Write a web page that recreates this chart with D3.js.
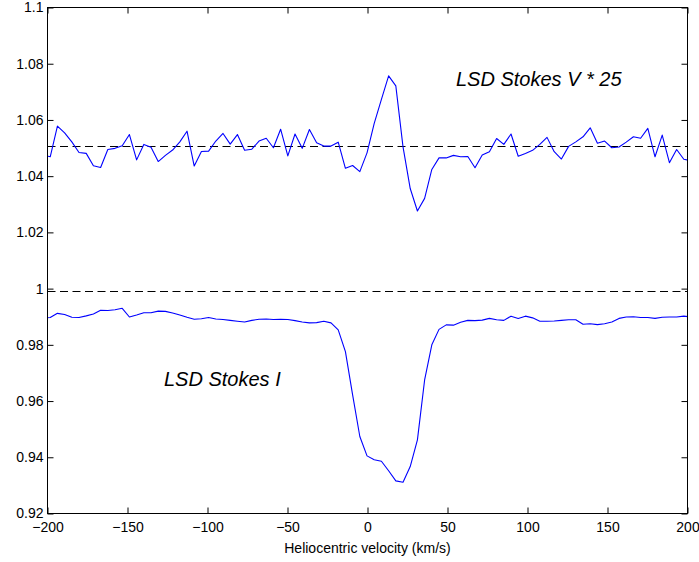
<!DOCTYPE html>
<html>
<head>
<meta charset="utf-8">
<script src="https://cdn.jsdelivr.net/npm/d3@7"></script>
<style>
	body { margin: 0; background: #fff; }
	svg { display: block; font-family: "Liberation Sans", Arial, Helvetica, sans-serif; }
	.tick text { font-size: 14px; fill: #000; }
	.tick line { stroke: #000; }
</style>
</head>
<body>
<div id="main-container"></div>
<script>

// velocity grid (km/s), shared by both profiles
var velocity = [
	-202.8, -198.3, -193.8, -189.3, -184.8, -180.3, -175.8, -171.3, -166.8, -162.3,
	-157.8, -153.3, -148.8, -144.3, -139.8, -135.3, -130.8, -126.3, -121.8, -117.3,
	-112.8, -108.3, -103.8, -99.3, -94.8, -90.3, -85.8, -81.3, -76.8, -72.3,
	-67.8, -63.3, -58.8, -54.3, -49.8, -45.3, -40.8, -36.3, -31.8, -27.3,
	-22.8, -18.3, -13.8, -9.3, -4.8, -0.3, 4.2, 8.7, 13.2, 17.7,
	22.2, 26.7, 31.2, 35.7, 40.2, 44.7, 49.2, 53.7, 58.2, 62.7,
	67.2, 71.7, 76.2, 80.7, 85.2, 89.7, 94.2, 98.7, 103.2, 107.7,
	112.2, 116.7, 121.2, 125.7, 130.2, 134.7, 139.2, 143.7, 148.2, 152.7,
	157.2, 161.7, 166.2, 170.7, 175.2, 179.7, 184.2, 188.7, 193.2, 197.7,
	202.2
];

// Stokes V (scaled by 25, shifted)
var stokesV = [
	1.0475, 1.0469, 1.0578, 1.0554, 1.0522, 1.0484, 1.0481, 1.0437, 1.0431, 1.0495,
	1.0499, 1.0508, 1.0548, 1.0458, 1.0513, 1.0503, 1.0452, 1.0474, 1.0493, 1.0522,
	1.0560, 1.0436, 1.0488, 1.0489, 1.0525, 1.0552, 1.0514, 1.0548, 1.0492, 1.0496,
	1.0525, 1.0535, 1.0501, 1.0567, 1.0472, 1.0550, 1.0499, 1.0566, 1.0519, 1.0507,
	1.0507, 1.0521, 1.0428, 1.0438, 1.0416, 1.0483, 1.0588, 1.0673, 1.0757, 1.0721,
	1.0504, 1.0356, 1.0276, 1.0321, 1.0424, 1.0465, 1.0465, 1.0474, 1.0469, 1.0470,
	1.0430, 1.0475, 1.0487, 1.0534, 1.0513, 1.0550, 1.0471, 1.0481, 1.0492, 1.0513,
	1.0538, 1.0487, 1.0461, 1.0506, 1.0522, 1.0540, 1.0572, 1.0517, 1.0525, 1.0501,
	1.0504, 1.0521, 1.0540, 1.0535, 1.0570, 1.0469, 1.0546, 1.0448, 1.0495, 1.0460,
	1.0455
];

// Stokes I
var stokesI = [
	0.9895, 0.9897, 0.9912, 0.9908, 0.9898, 0.9897, 0.9903, 0.9910, 0.9923, 0.9922,
	0.9925, 0.9930, 0.9899, 0.9906, 0.9914, 0.9914, 0.9920, 0.9919, 0.9913, 0.9906,
	0.9898, 0.9891, 0.9893, 0.9897, 0.9892, 0.9890, 0.9887, 0.9884, 0.9881, 0.9887,
	0.9891, 0.9892, 0.9890, 0.9891, 0.9890, 0.9886, 0.9881, 0.9878, 0.9879, 0.9884,
	0.9878, 0.9853, 0.9776, 0.9622, 0.9474, 0.9405, 0.9391, 0.9386, 0.9352, 0.9316,
	0.9311, 0.9367, 0.9462, 0.9675, 0.9800, 0.9855, 0.9871, 0.9870, 0.9880, 0.9887,
	0.9886, 0.9888, 0.9894, 0.9889, 0.9887, 0.9902, 0.9894, 0.9902, 0.9896, 0.9884,
	0.9884, 0.9885, 0.9887, 0.9889, 0.9889, 0.9873, 0.9875, 0.9872, 0.9875, 0.9881,
	0.9894, 0.9899, 0.9900, 0.9897, 0.9897, 0.9894, 0.9898, 0.9899, 0.9899, 0.9902,
	0.9899
];

// dashed reference levels
var refLevels = [1.0507, 0.9991];

var xTicks = [-200, -150, -100, -50, 0, 50, 100, 150, 200];
var yTicks = [0.92, 0.94, 0.96, 0.98, 1, 1.02, 1.04, 1.06, 1.08, 1.1];

// annotation text, anchored in data units (left edge, baseline)
var labels = [
	{ text: "LSD Stokes V * 25", v: 55.3, y: 1.0722 },
	{ text: "LSD Stokes I", v: -127.2, y: 0.9653 }
];



drawChart();



//*******************************************************************************************
//
//		CHART
//
//*******************************************************************************************

function drawChart() {
	var width  = 699,
	    height = 562,
	    margin = { top: 7.5, right: 11.5, bottom: 48.5, left: 47.5 };

	var svg = d3.select("#main-container")
	            .append("svg")
	            .attr("width", width)
	            .attr("height", height);

	var x = d3.scaleLinear()
	          .domain([-200, 200])
	          .range([margin.left, width - margin.right]);

	var y = d3.scaleLinear()
	          .domain([0.92, 1.1])
	          .range([height - margin.bottom, margin.top]);

	svg.append("clipPath")
	   .attr("id", "plotclip")
	   .append("rect")
	   .attr("x", margin.left)
	   .attr("y", margin.top)
	   .attr("width", width - margin.left - margin.right)
	   .attr("height", height - margin.top - margin.bottom);

	// dashed levels, snapped to the pixel grid so they stay black
	svg.append("g")
	   .selectAll("line")
	   .data(refLevels)
	   .enter()
	   .append("line")
	   .attr("x1", x(-200))
	   .attr("x2", x(200))
	   .attr("y1", function(d) { return Math.round(y(d)) + 0.5; })
	   .attr("y2", function(d) { return Math.round(y(d)) + 0.5; })
	   .attr("stroke", "#000")
	   .attr("stroke-width", 1)
	   .attr("stroke-dasharray", "8,4.5");

	var line = d3.line()
	             .x(function(d) { return x(d[0]); })
	             .y(function(d) { return y(d[1]); });

	var series = [ d3.zip(velocity, stokesV), d3.zip(velocity, stokesI) ];

	svg.append("g")
	   .attr("clip-path", "url(#plotclip)")
	   .selectAll("path")
	   .data(series)
	   .enter()
	   .append("path")
	   .attr("d", line)
	   .attr("fill", "none")
	   .attr("stroke", "#0000ff")
	   .attr("stroke-width", 1.1)
	   .attr("stroke-linejoin", "round");

	// axes, ticks pointing inward on all four sides
	svg.append("g")
	   .attr("transform", "translate(0," + (height - margin.bottom) + ")")
	   .call(d3.axisBottom(x).tickValues(xTicks).tickSize(-6).tickSizeOuter(0).tickPadding(8.3).tickFormat(d3.format("")))
	   .call(function(g) { g.select(".domain").remove(); });

	svg.append("g")
	   .attr("transform", "translate(0," + margin.top + ")")
	   .call(d3.axisTop(x).tickValues(xTicks).tickSize(-6).tickSizeOuter(0).tickFormat(""))
	   .call(function(g) { g.select(".domain").remove(); });

	svg.append("g")
	   .attr("transform", "translate(" + margin.left + ",0)")
	   .call(d3.axisLeft(y).tickValues(yTicks).tickSize(-6).tickSizeOuter(0).tickPadding(4).tickFormat(d3.format("~g")))
	   .call(function(g) { g.select(".domain").remove(); });

	svg.append("g")
	   .attr("transform", "translate(" + (width - margin.right) + ",0)")
	   .call(d3.axisRight(y).tickValues(yTicks).tickSize(-6).tickSizeOuter(0).tickFormat(""))
	   .call(function(g) { g.select(".domain").remove(); });

	svg.selectAll(".tick text").attr("font-family", null).attr("font-size", null);

	// frame
	svg.append("rect")
	   .attr("x", margin.left)
	   .attr("y", margin.top)
	   .attr("width", width - margin.left - margin.right)
	   .attr("height", height - margin.top - margin.bottom)
	   .attr("fill", "none")
	   .attr("stroke", "#000")
	   .attr("stroke-width", 1);

	svg.append("text")
	   .attr("x", x(0))
	   .attr("y", 553.3)
	   .attr("text-anchor", "middle")
	   .attr("font-size", "14px")
	   .text("Heliocentric velocity (km/s)");

	svg.append("g")
	   .selectAll("text")
	   .data(labels)
	   .enter()
	   .append("text")
	   .attr("x", function(d) { return x(d.v); })
	   .attr("y", function(d) { return y(d.y); })
	   .attr("font-size", "20px")
	   .attr("font-style", "italic")
	   .text(function(d) { return d.text; });
}
</script>
</body>
</html>
